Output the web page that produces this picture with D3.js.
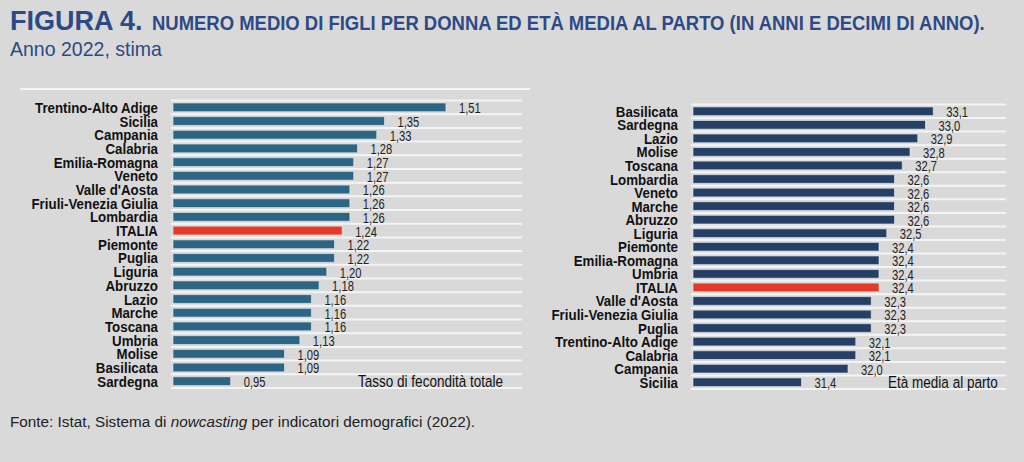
<!DOCTYPE html>
<html><head><meta charset="utf-8">
<script src="https://cdn.jsdelivr.net/npm/d3@7"></script>
<style>
body{margin:0;background:#d9d9d9;}
svg{display:block;}
</style></head>
<body>
<svg id="c" width="1024" height="462"></svg>
<script>
const leftCategories = ["Trentino-Alto Adige","Sicilia","Campania","Calabria","Emilia-Romagna","Veneto","Valle d'Aosta","Friuli-Venezia Giulia","Lombardia","ITALIA","Piemonte","Puglia","Liguria","Abruzzo","Lazio","Marche","Toscana","Umbria","Molise","Basilicata","Sardegna"];
const leftValues = [1.51,1.35,1.33,1.28,1.27,1.27,1.26,1.26,1.26,1.24,1.22,1.22,1.20,1.18,1.16,1.16,1.16,1.13,1.09,1.09,0.95];
const rightCategories = ["Basilicata","Sardegna","Lazio","Molise","Toscana","Lombardia","Veneto","Marche","Abruzzo","Liguria","Piemonte","Emilia-Romagna","Umbria","ITALIA","Valle d'Aosta","Friuli-Venezia Giulia","Puglia","Trentino-Alto Adige","Calabria","Campania","Sicilia"];
const rightValues = [33.1,33.0,32.9,32.8,32.7,32.6,32.6,32.6,32.6,32.5,32.4,32.4,32.4,32.4,32.3,32.3,32.3,32.1,32.1,32.0,31.4];
const leftDomain = [0.8, 1.7];
const rightDomain = [30, 34];

const svg = d3.select("#c");
const SANS = "'Liberation Sans',Arial,sans-serif";
const BLUE = "#2c4a85";
const tr = (x,y,s) => `translate(${x},${y}) scale(${s},1)`;

// Title
svg.append("text").attr("transform", tr(10,30,1)).attr("fill", BLUE)
  .attr("font-family",SANS).attr("font-weight","bold").attr("font-size",27).text("FIGURA 4.");
svg.append("text").attr("transform", tr(152,30,0.88)).attr("fill", BLUE)
  .attr("font-family",SANS).attr("font-weight","bold").attr("font-size",21)
  .text("NUMERO MEDIO DI FIGLI PER DONNA ED ETÀ MEDIA AL PARTO (IN ANNI E DECIMI DI ANNO).");
svg.append("text").attr("transform", tr(10,56,0.93)).attr("fill",BLUE).attr("font-family",SANS).attr("font-size",21).text("Anno 2022, stima");

svg.append("line").attr("x1",20).attr("x2",530).attr("y1",89).attr("y2",89).attr("stroke","#f4f4f4").attr("stroke-width",2);

svg.append("text").attr("x",10).attr("y",427).attr("fill","#222").attr("font-family",SANS).attr("font-size",15.3)
  .html("Fonte: Istat, Sistema di <tspan font-style='italic'>nowcasting</tspan> per indicatori demografici (2022).");

function panel(cats, vals, domain, xr, yr, color, fmt, note, labelX, noteX){
  const x = d3.scaleLinear().domain(domain).range(xr);
  const y = d3.scaleBand().domain(cats).range(yr).paddingInner(0.36).paddingOuter(0.18);
  const g = svg.append("g");
  const bounds = d3.range(cats.length+1).map(i => yr[0] + i*(yr[1]-yr[0])/cats.length);
  g.selectAll("line.grid").data(bounds).join("line")
    .attr("x1", xr[0]-2).attr("x2", xr[1]+3).attr("y1", d=>d).attr("y2", d=>d)
    .attr("stroke","#f4f4f4").attr("stroke-width",2);
  g.selectAll("rect").data(cats).join("rect")
    .attr("x", x(domain[0])).attr("y", d=>y(d))
    .attr("width", (d,i)=>x(vals[i])-x(domain[0])).attr("height", y.bandwidth())
    .attr("fill", d=> d==="ITALIA" ? "#e33b28" : color)
    .attr("stroke","#eef2f5").attr("stroke-opacity",0.6).attr("stroke-width",1);
  g.selectAll("text.v").data(cats).join("text")
    .attr("transform", (d,i)=>tr(x(vals[i])+13, y(d)+y.bandwidth()/2+6, 0.8))
    .attr("font-family",SANS).attr("font-size",14).attr("fill","#222")
    .text((d,i)=>fmt(vals[i]));
  g.selectAll("text.c").data(cats).join("text")
    .attr("transform", d=>tr(labelX, y(d)+y.bandwidth()/2+5.5, 0.86))
    .attr("text-anchor","end").attr("font-family",SANS).attr("font-weight","bold")
    .attr("font-size",15.5).attr("fill","#111").text(d=>d);
  g.append("text").attr("transform", tr(noteX, y(cats[cats.length-1])+y.bandwidth()/2+6, 0.82))
    .attr("font-family",SANS).attr("font-size",16.5).attr("fill","#111").text(note);
}
const f2 = v => d3.format(".2f")(v).replace(".",",");
const f1 = v => d3.format(".1f")(v).replace(".",",");
panel(leftCategories, leftValues, leftDomain, [173,519], [100.5,388], "#2d6585", f2, "Tasso di fecondità totale", 158, 358);
panel(rightCategories, rightValues, rightDomain, [693,1003], [104.5,389], "#263f66", f1, "Età media al parto", 678, 888);
</script>
</body></html>
